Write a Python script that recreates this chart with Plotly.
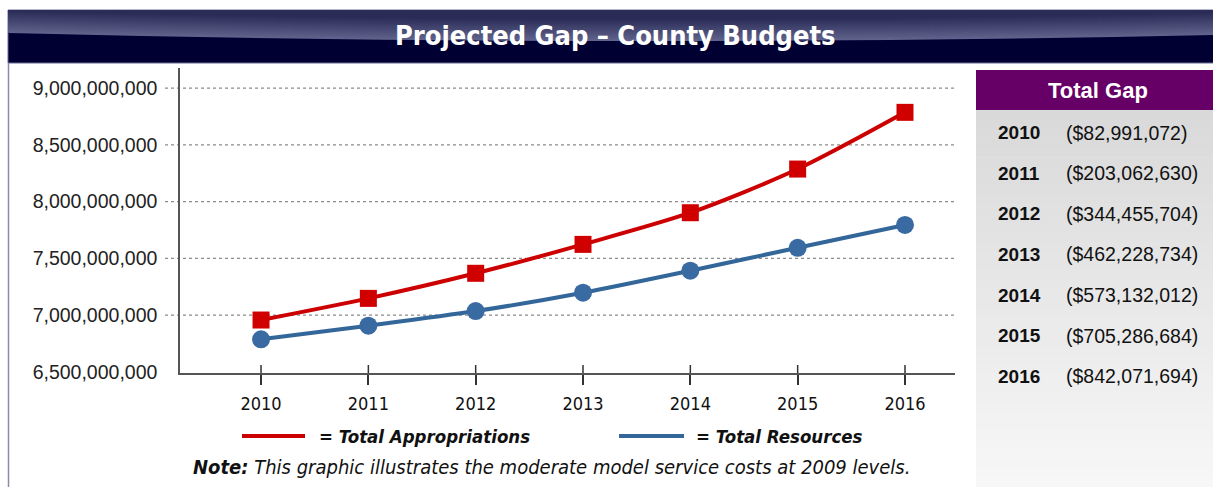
import plotly.graph_objects as go

# ---- data -------------------------------------------------------------
years = [2010, 2011, 2012, 2013, 2014, 2015, 2016]
appropriations = [6.956e9, 7.147e9, 7.368e9, 7.623e9, 7.902e9, 8.287e9, 8.787e9]
resources = [6.786e9, 6.906e9, 7.035e9, 7.197e9, 7.391e9, 7.593e9, 7.794e9]
y_ticks = [6.5e9, 7.0e9, 7.5e9, 8.0e9, 8.5e9, 9.0e9]

gap_years = ["2010", "2011", "2012", "2013", "2014", "2015", "2016"]
gap_labels = ["($82,991,072)", "($203,062,630)", "($344,455,704)", "($462,228,734)",
              "($573,132,012)", "($705,286,684)", "($842,071,694)"]

title_text = "Projected Gap \u2013 County Budgets"
note_text = "<b>Note:</b> This graphic illustrates the moderate model service costs at 2009 levels."

# ---- page geometry (pixels) -----------------------------------------
W, H = 1213, 487
PL, PR, PT, PB = 180, 955, 68, 373          # plot box
PW, PH = PR - PL, PB - PT

def px(x):
    return (x - PL) / PW

def py(y):
    return (PB - y) / PH

NARROW = "Liberation Sans Narrow, DejaVu Sans Condensed, Arial Narrow, sans-serif"
SANS = "Liberation Sans, Arial, sans-serif"

RED = "#cc0000"
BLUE = "#336699"

fig = go.Figure()

fig.add_trace(go.Scatter(
    x=years, y=appropriations, mode="lines+markers", name="Total Appropriations",
    line=dict(color=RED, width=4, shape="spline", smoothing=0.8),
    marker=dict(symbol="square", size=17, color="#d00000"),
    showlegend=False,
))
fig.add_trace(go.Scatter(
    x=years, y=resources, mode="lines+markers", name="Total Resources",
    line=dict(color=BLUE, width=4, shape="spline", smoothing=0.8),
    marker=dict(symbol="circle", size=18, color="#3a6aa2"),
    showlegend=False,
))

shapes = []
annotations = []

def rect(x0, y0, x1, y1, fill, line=None, layer="below"):
    shapes.append(dict(type="rect", xref="paper", yref="paper",
                       x0=px(x0), x1=px(x1), y0=py(y0), y1=py(y1),
                       fillcolor=fill, line=line or dict(width=0), layer=layer))

def mix(c1, c2, t):
    a = [int(c1[i:i + 2], 16) for i in (1, 3, 5)]
    b = [int(c2[i:i + 2], 16) for i in (1, 3, 5)]
    return "#" + "".join(f"{round(a[k] + (b[k] - a[k]) * t):02x}" for k in range(3))

# header bar with curved sheen
rect(8, 10, W + 2, 63, "#000033", line=dict(color="#6a6a98", width=1))
n = 24
for i in range(n):
    t = i / (n - 1)
    off = t * 22                        # layers shrink towards the top
    yl, ym, yr = 33 - off, 41 - off, 35 - off
    yl, ym, yr = max(yl, 10.5), max(ym, 10.5), max(yr, 10.5)
    col = mix("#60638c", "#2a2c57", t)
    path = (f"M {px(8.5)},{py(10.5)} L {px(W)},{py(10.5)} L {px(W)},{py(yr)} "
            f"Q {px(610)},{py(2 * ym - (yl + yr) / 2)} {px(8.5)},{py(yl)} Z")
    shapes.append(dict(type="path", xref="paper", yref="paper", path=path,
                       fillcolor=col, line=dict(width=0), layer="below"))

# left frame line
shapes.append(dict(type="line", xref="paper", yref="paper",
                   x0=px(8.5), x1=px(8.5), y0=py(63), y1=py(H + 2),
                   line=dict(color="#8a8aac", width=1.5), layer="below"))

# side panel: gradient body and purple header
steps = 40
for i in range(steps):
    y0 = 110 + (H - 110) * i / steps
    y1 = 110 + (H - 110) * (i + 1) / steps + 0.5
    rect(976, y0, W + 2, y1, mix("#d9d9d9", "#f7f7f7", i / (steps - 1)))
rect(976, 70, W + 2, 110, "#660066")

annotations.append(dict(text="<b>Total Gap</b>", xref="paper", yref="paper",
                        x=px(1098), y=py(91), xanchor="center", yanchor="middle",
                        showarrow=False, font=dict(family=SANS, size=22, color="white")))
for i, (yr_lbl, gap) in enumerate(zip(gap_years, gap_labels)):
    yc = 132.7 + i * 40.6
    annotations.append(dict(text=f"<b>{yr_lbl}</b>", xref="paper", yref="paper",
                            x=px(996), y=py(yc), xanchor="left", yanchor="middle",
                            showarrow=False, font=dict(family=SANS, size=19, color="#111111")))
    annotations.append(dict(text=gap, xref="paper", yref="paper",
                            x=px(1064), y=py(yc), xanchor="left", yanchor="middle",
                            showarrow=False, font=dict(family=SANS, size=19.5, color="#111111")))

# title
annotations.append(dict(text=f"<b>{title_text}</b>", xref="paper", yref="paper",
                        x=px(615), y=py(36), xanchor="center", yanchor="middle",
                        showarrow=False, font=dict(family=NARROW, size=27, color="white")))

# dotted gridlines that reach left past the value axis
for v in y_ticks[1:]:
    shapes.append(dict(type="line", xref="paper", yref="y",
                       x0=px(165), x1=px(954), y0=v, y1=v,
                       line=dict(color="#8c8c8c", width=1.2, dash="dot"), layer="below"))

# inner half of the crossing year ticks
for yv in years:
    shapes.append(dict(type="line", xref="x", yref="paper",
                       x0=yv, x1=yv, y0=0, y1=8 / PH,
                       line=dict(color="#333333", width=1.5)))

# key below the chart
shapes.append(dict(type="line", xref="paper", yref="paper",
                   x0=px(242), x1=px(305), y0=py(436), y1=py(436),
                   line=dict(color=RED, width=4)))
shapes.append(dict(type="line", xref="paper", yref="paper",
                   x0=px(619), x1=px(684), y0=py(436), y1=py(436),
                   line=dict(color=BLUE, width=4)))
annotations.append(dict(text="<b><i>= Total Appropriations</i></b>", xref="paper", yref="paper",
                        x=px(317), y=py(436), xanchor="left", yanchor="middle",
                        showarrow=False, font=dict(family=NARROW, size=18.5, color="#111111")))
annotations.append(dict(text="<b><i>= Total Resources</i></b>", xref="paper", yref="paper",
                        x=px(694), y=py(436), xanchor="left", yanchor="middle",
                        showarrow=False, font=dict(family=NARROW, size=18.5, color="#111111")))
annotations.append(dict(text=f"<i>{note_text}</i>", xref="paper", yref="paper",
                        x=px(191), y=py(467), xanchor="left", yanchor="middle",
                        showarrow=False, font=dict(family=NARROW, size=20, color="#111111")))

fig.update_layout(
    width=W, height=H, autosize=False,
    margin=dict(l=PL, r=W - PR, t=PT, b=H - PB, pad=0),
    paper_bgcolor="white", plot_bgcolor="white",
    shapes=shapes, annotations=annotations,
    xaxis=dict(range=[2009.245, 2016.466], tickvals=years, ticktext=[str(y) for y in years],
               showgrid=False, zeroline=False, showline=True, linecolor="#555555", linewidth=1.5,
               ticks="outside", ticklen=10, tickwidth=1.5, tickcolor="#333333",
               ticklabelstandoff=4,
               tickfont=dict(family=NARROW, size=18, color="#111111")),
    yaxis=dict(range=[6.489e9, 9.178e9], tickvals=y_ticks, tickformat=",d",
               showgrid=False, zeroline=False, showline=True, linecolor="#555555", linewidth=1.5,
               ticks="", ticklabelstandoff=17,
               tickfont=dict(family=SANS, size=19.5, color="#222222")),
)

fig.write_html("out.html")
